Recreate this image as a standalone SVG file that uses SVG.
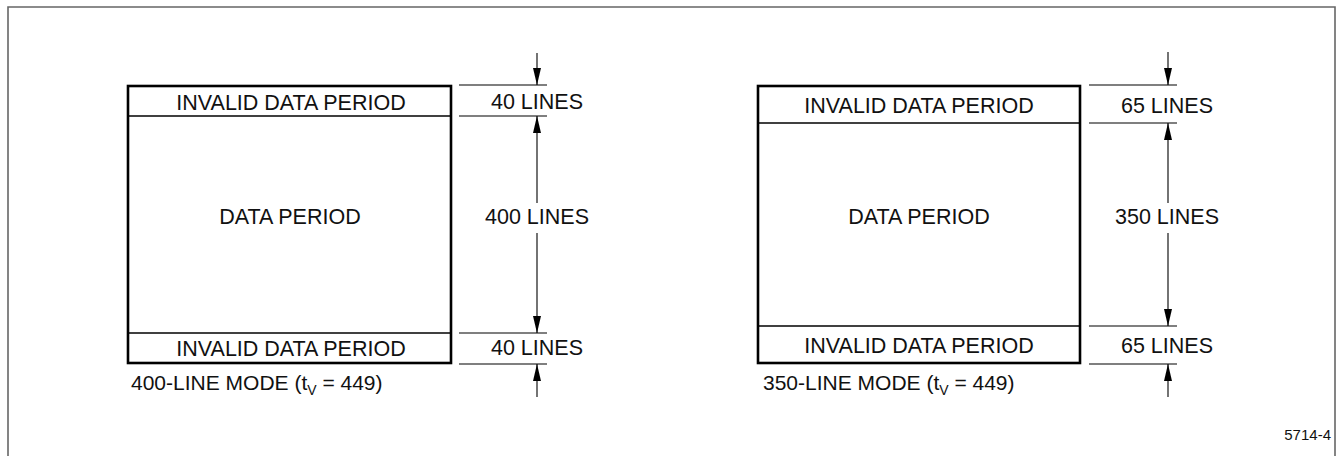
<svg xmlns="http://www.w3.org/2000/svg" width="1340" height="456" viewBox="0 0 1340 456">
  <style>
    text { font-family: "Liberation Sans", Arial, sans-serif; fill: #111; }
    .lbl { font-size: 21.5px; text-anchor: middle; }
    .cap { font-size: 21px; }
    .sub { font-size: 14px; }
    .fig { font-size: 15px; text-anchor: end; }
    .box { fill: #fff; stroke: #000; stroke-width: 2.6; }
    .div { stroke: #000; stroke-width: 1.3; fill: none; }
    .dim { stroke: #000; stroke-width: 1.1; fill: none; }
    .frame { stroke: #666; stroke-width: 1.6; fill: none; }
  </style>
  <defs>
    <marker id="ah" viewBox="0 0 17 8" refX="17" refY="4" markerWidth="17" markerHeight="8" markerUnits="userSpaceOnUse" orient="auto">
      <path d="M0,0 L17,4 L0,8 Z" fill="#000"/>
    </marker>
  </defs>

  <rect width="1340" height="456" fill="#fff"/>
  <path class="frame" d="M8,456 V7 H1335 V456"/>

  <!-- 400-line mode frame -->
  <g id="mode400">
    <rect class="box" x="128" y="86" width="323" height="277"/>
    <line class="div" x1="128" y1="116" x2="451" y2="116"/>
    <line class="div" x1="128" y1="333" x2="451" y2="333"/>
    <text class="lbl" x="291" y="110">INVALID DATA PERIOD</text>
    <text class="lbl" x="290" y="224">DATA PERIOD</text>
    <text class="lbl" x="291" y="356">INVALID DATA PERIOD</text>
    <text class="cap" x="131" y="390">400-LINE MODE (t<tspan class="sub" dy="5">V</tspan><tspan dy="-5"> = 449)</tspan></text>
  </g>

  <!-- 350-line mode frame -->
  <g id="mode350">
    <rect class="box" x="758" y="86" width="322" height="277"/>
    <line class="div" x1="758" y1="123" x2="1080" y2="123"/>
    <line class="div" x1="758" y1="326" x2="1080" y2="326"/>
    <text class="lbl" x="919" y="113">INVALID DATA PERIOD</text>
    <text class="lbl" x="919" y="224">DATA PERIOD</text>
    <text class="lbl" x="919" y="353">INVALID DATA PERIOD</text>
    <text class="cap" x="763" y="390">350-LINE MODE (t<tspan class="sub" dy="5">V</tspan><tspan dy="-5"> = 449)</tspan></text>
  </g>

  <!-- dimension labels -->
  <g id="dim400-labels">
    <text class="lbl" x="537" y="109">40 LINES</text>
    <text class="lbl" x="537" y="224">400 LINES</text>
    <text class="lbl" x="537" y="355">40 LINES</text>
  </g>
  <g id="dim350-labels">
    <text class="lbl" x="1167" y="113">65 LINES</text>
    <text class="lbl" x="1167" y="224">350 LINES</text>
    <text class="lbl" x="1167" y="353">65 LINES</text>
  </g>

  <!-- extension lines and dimension arrows -->
  <g id="connectors">
    <line class="dim" x1="459" y1="85" x2="547" y2="85"/>
    <line class="dim" x1="459" y1="116" x2="547" y2="116"/>
    <line class="dim" x1="459" y1="333" x2="547" y2="333"/>
    <line class="dim" x1="459" y1="364" x2="547" y2="364"/>
    <line class="dim" x1="537" y1="53" x2="537" y2="85" marker-end="url(#ah)"/>
    <line class="dim" x1="537" y1="203" x2="537" y2="116" marker-end="url(#ah)"/>
    <line class="dim" x1="537" y1="233" x2="537" y2="333" marker-end="url(#ah)"/>
    <line class="dim" x1="537" y1="397" x2="537" y2="364" marker-end="url(#ah)"/>

    <line class="dim" x1="1089" y1="85" x2="1177" y2="85"/>
    <line class="dim" x1="1089" y1="123" x2="1177" y2="123"/>
    <line class="dim" x1="1089" y1="326" x2="1177" y2="326"/>
    <line class="dim" x1="1089" y1="364" x2="1177" y2="364"/>
    <line class="dim" x1="1168" y1="52" x2="1168" y2="85" marker-end="url(#ah)"/>
    <line class="dim" x1="1168" y1="203" x2="1168" y2="123" marker-end="url(#ah)"/>
    <line class="dim" x1="1168" y1="233" x2="1168" y2="326" marker-end="url(#ah)"/>
    <line class="dim" x1="1168" y1="397" x2="1168" y2="364" marker-end="url(#ah)"/>
  </g>

  <text class="fig" x="1331" y="440">5714-4</text>
</svg>
